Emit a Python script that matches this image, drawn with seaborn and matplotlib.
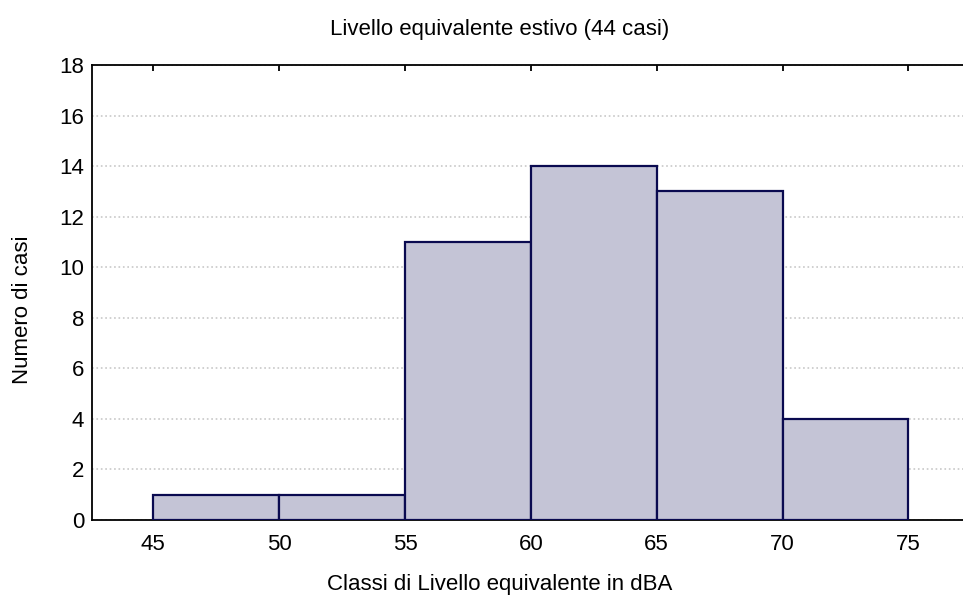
import matplotlib
matplotlib.use("Agg")
import matplotlib.pyplot as plt
import seaborn as sns

# classi di livello equivalente (dBA) e numero di casi
bin_edges = [45, 50, 55, 60, 65, 70, 75]
bin_centers = [47.5, 52.5, 57.5, 62.5, 67.5, 72.5]
counts = [1, 1, 11, 14, 13, 4]

sns.set_style("white")
plt.rcParams['font.family'] = ['Liberation Sans', 'DejaVu Sans']
plt.rcParams['text.color'] = 'black'
plt.rcParams['axes.labelcolor'] = 'black'

fig, ax = plt.subplots(figsize=(9.63, 5.97), dpi=100)
fig.subplots_adjust(left=0.096, right=0.9995, top=0.891, bottom=0.129)

sns.histplot(x=bin_centers, weights=counts, bins=bin_edges, ax=ax,
             color='#c4c4d6', edgecolor='#0a0a50', linewidth=1.6, alpha=1,
             zorder=3)

ax.set_xlim(42.58, 77.15)
ax.set_ylim(0, 18)
ax.set_xticks(bin_edges)
ax.set_yticks(range(0, 19, 2))
ax.yaxis.grid(True, linestyle=':', color='#c8c8c8', linewidth=1.2, zorder=0)
ax.set_axisbelow(True)

for s in ax.spines.values():
    s.set_color('black')
    s.set_linewidth(1.3)
ax.spines['right'].set_visible(False)

ax.tick_params(axis='both', direction='in', length=4, width=1.3,
               labelsize=16, top=True, right=False, colors='black')
ax.tick_params(axis='x', pad=10)
ax.tick_params(axis='y', pad=6)

# testi centrati un po' a sinistra del centro degli assi, come nell'originale
ax.set_title('Livello equivalente estivo (44 casi)', fontsize=16, pad=22, x=0.468)
ax.set_xlabel('Classi di Livello equivalente in dBA', fontsize=16, labelpad=13.5, x=0.468)
ax.set_ylabel('Numero di casi', fontsize=16, labelpad=19, y=0.4615)

fig.savefig('out.png', dpi=100)
